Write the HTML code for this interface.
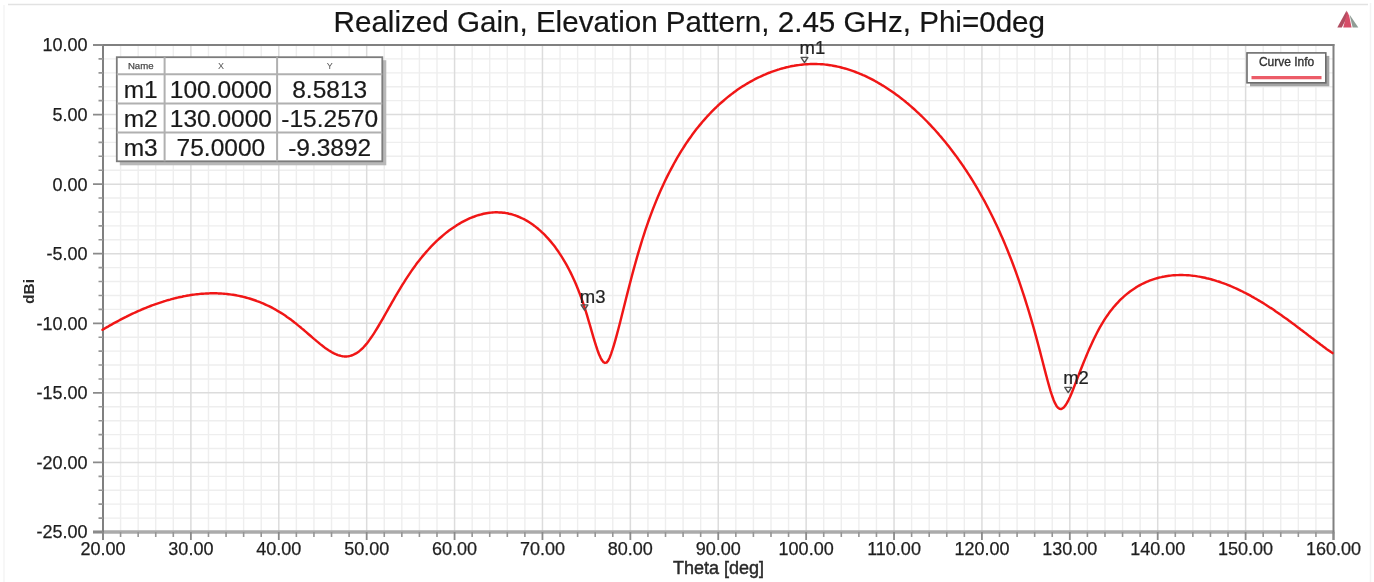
<!DOCTYPE html>
<html><head><meta charset="utf-8"><style>
html,body{margin:0;padding:0;background:#fff;}
body{width:1374px;height:582px;overflow:hidden;position:relative;}
svg{position:absolute;left:0;top:0;filter:blur(0.4px);font-family:"Liberation Sans",sans-serif;}
.lab{font-size:18px;fill:#1e1e1e;stroke:#1e1e1e;stroke-width:0.25;}
.axt{font-size:18px;fill:#2a2a2a;stroke:#2a2a2a;stroke-width:0.45;}
.axy{font-size:15.5px;font-weight:bold;fill:#2a2a2a;}
.title{font-size:29.6px;fill:#151515;stroke:#151515;stroke-width:0.2;}
.mk{font-size:18.5px;fill:#222;stroke:#222;stroke-width:0.2;}
.th{font-size:9.6px;fill:#4a4a4a;stroke:#4a4a4a;stroke-width:0.25;}
.th2{font-size:9px;fill:#555;}
.td{font-size:24.5px;fill:#1a1a1a;stroke:#1a1a1a;stroke-width:0.2;}
.leg{font-size:12px;fill:#333;stroke:#333;stroke-width:0.35;}
</style></head><body>
<svg width="1374" height="582" viewBox="0 0 1374 582">
<line x1="8" y1="4.5" x2="1368" y2="4.5" stroke="#e2e2e2" stroke-width="1.6"/>
<line x1="4" y1="5" x2="4" y2="582" stroke="#f5f5f5" stroke-width="1.5"/>
<line x1="1370.5" y1="3" x2="1370.5" y2="582" stroke="#f3f3f3" stroke-width="1.5"/>
<path d="M120.58,45.0V532.0M138.16,45.0V532.0M155.74,45.0V532.0M173.31,45.0V532.0M208.47,45.0V532.0M226.05,45.0V532.0M243.63,45.0V532.0M261.21,45.0V532.0M296.36,45.0V532.0M313.94,45.0V532.0M331.52,45.0V532.0M349.10,45.0V532.0M384.26,45.0V532.0M401.84,45.0V532.0M419.41,45.0V532.0M436.99,45.0V532.0M472.15,45.0V532.0M489.73,45.0V532.0M507.31,45.0V532.0M524.89,45.0V532.0M560.04,45.0V532.0M577.62,45.0V532.0M595.20,45.0V532.0M612.78,45.0V532.0M647.94,45.0V532.0M665.51,45.0V532.0M683.09,45.0V532.0M700.67,45.0V532.0M735.83,45.0V532.0M753.41,45.0V532.0M770.99,45.0V532.0M788.56,45.0V532.0M823.72,45.0V532.0M841.30,45.0V532.0M858.88,45.0V532.0M876.46,45.0V532.0M911.61,45.0V532.0M929.19,45.0V532.0M946.77,45.0V532.0M964.35,45.0V532.0M999.51,45.0V532.0M1017.09,45.0V532.0M1034.66,45.0V532.0M1052.24,45.0V532.0M1087.40,45.0V532.0M1104.98,45.0V532.0M1122.56,45.0V532.0M1140.14,45.0V532.0M1175.29,45.0V532.0M1192.87,45.0V532.0M1210.45,45.0V532.0M1228.03,45.0V532.0M1263.19,45.0V532.0M1280.76,45.0V532.0M1298.34,45.0V532.0M1315.92,45.0V532.0M103.0,518.09H1333.5M103.0,504.17H1333.5M103.0,490.26H1333.5M103.0,476.34H1333.5M103.0,448.51H1333.5M103.0,434.60H1333.5M103.0,420.69H1333.5M103.0,406.77H1333.5M103.0,378.94H1333.5M103.0,365.03H1333.5M103.0,351.11H1333.5M103.0,337.20H1333.5M103.0,309.37H1333.5M103.0,295.46H1333.5M103.0,281.54H1333.5M103.0,267.63H1333.5M103.0,239.80H1333.5M103.0,225.89H1333.5M103.0,211.97H1333.5M103.0,198.06H1333.5M103.0,170.23H1333.5M103.0,156.31H1333.5M103.0,142.40H1333.5M103.0,128.49H1333.5M103.0,100.66H1333.5M103.0,86.74H1333.5M103.0,72.83H1333.5M103.0,58.91H1333.5" stroke="#eeeeee" stroke-width="1.4" fill="none"/>
<path d="M190.89,45.0V532.0M278.79,45.0V532.0M366.68,45.0V532.0M454.57,45.0V532.0M542.46,45.0V532.0M630.36,45.0V532.0M718.25,45.0V532.0M806.14,45.0V532.0M894.04,45.0V532.0M981.93,45.0V532.0M1069.82,45.0V532.0M1157.71,45.0V532.0M1245.61,45.0V532.0M103.0,462.43H1333.5M103.0,392.86H1333.5M103.0,323.29H1333.5M103.0,253.71H1333.5M103.0,184.14H1333.5M103.0,114.57H1333.5" stroke="#dcdcdc" stroke-width="1.5" fill="none"/>
<line x1="93" y1="45.0" x2="1334.4" y2="45.0" stroke="#808080" stroke-width="2.2"/>
<line x1="93" y1="532.0" x2="1334.4" y2="532.0" stroke="#ababab" stroke-width="3.6"/>
<line x1="103.0" y1="44.0" x2="103.0" y2="540" stroke="#808080" stroke-width="2"/>
<line x1="1333.5" y1="44.0" x2="1333.5" y2="540" stroke="#808080" stroke-width="2"/>
<path d="M93,532.00H103.0M93,462.43H103.0M93,392.86H103.0M93,323.29H103.0M93,253.71H103.0M93,184.14H103.0M93,114.57H103.0M93,45.00H103.0M103.00,532.0V540M190.89,532.0V540M278.79,532.0V540M366.68,532.0V540M454.57,532.0V540M542.46,532.0V540M630.36,532.0V540M718.25,532.0V540M806.14,532.0V540M894.04,532.0V540M981.93,532.0V540M1069.82,532.0V540M1157.71,532.0V540M1245.61,532.0V540M1333.50,532.0V540" stroke="#8a8a8a" stroke-width="1.8" fill="none"/>
<path d="M98.5,518.09H103.0M98.5,504.17H103.0M98.5,490.26H103.0M98.5,476.34H103.0M98.5,448.51H103.0M98.5,434.60H103.0M98.5,420.69H103.0M98.5,406.77H103.0M98.5,378.94H103.0M98.5,365.03H103.0M98.5,351.11H103.0M98.5,337.20H103.0M98.5,309.37H103.0M98.5,295.46H103.0M98.5,281.54H103.0M98.5,267.63H103.0M98.5,239.80H103.0M98.5,225.89H103.0M98.5,211.97H103.0M98.5,198.06H103.0M98.5,170.23H103.0M98.5,156.31H103.0M98.5,142.40H103.0M98.5,128.49H103.0M98.5,100.66H103.0M98.5,86.74H103.0M98.5,72.83H103.0M98.5,58.91H103.0M120.58,532.0V537M138.16,532.0V537M155.74,532.0V537M173.31,532.0V537M208.47,532.0V537M226.05,532.0V537M243.63,532.0V537M261.21,532.0V537M296.36,532.0V537M313.94,532.0V537M331.52,532.0V537M349.10,532.0V537M384.26,532.0V537M401.84,532.0V537M419.41,532.0V537M436.99,532.0V537M472.15,532.0V537M489.73,532.0V537M507.31,532.0V537M524.89,532.0V537M560.04,532.0V537M577.62,532.0V537M595.20,532.0V537M612.78,532.0V537M647.94,532.0V537M665.51,532.0V537M683.09,532.0V537M700.67,532.0V537M735.83,532.0V537M753.41,532.0V537M770.99,532.0V537M788.56,532.0V537M823.72,532.0V537M841.30,532.0V537M858.88,532.0V537M876.46,532.0V537M911.61,532.0V537M929.19,532.0V537M946.77,532.0V537M964.35,532.0V537M999.51,532.0V537M1017.09,532.0V537M1034.66,532.0V537M1052.24,532.0V537M1087.40,532.0V537M1104.98,532.0V537M1122.56,532.0V537M1140.14,532.0V537M1175.29,532.0V537M1192.87,532.0V537M1210.45,532.0V537M1228.03,532.0V537M1263.19,532.0V537M1280.76,532.0V537M1298.34,532.0V537M1315.92,532.0V537" stroke="#959595" stroke-width="1.6" fill="none"/>
<text x="87.5" y="538.40" text-anchor="end" class="lab">-25.00</text>
<text x="87.5" y="468.83" text-anchor="end" class="lab">-20.00</text>
<text x="87.5" y="399.26" text-anchor="end" class="lab">-15.00</text>
<text x="87.5" y="329.69" text-anchor="end" class="lab">-10.00</text>
<text x="87.5" y="260.11" text-anchor="end" class="lab">-5.00</text>
<text x="87.5" y="190.54" text-anchor="end" class="lab">0.00</text>
<text x="87.5" y="120.97" text-anchor="end" class="lab">5.00</text>
<text x="87.5" y="51.40" text-anchor="end" class="lab">10.00</text>
<text x="103.00" y="554.8" text-anchor="middle" class="lab">20.00</text>
<text x="190.89" y="554.8" text-anchor="middle" class="lab">30.00</text>
<text x="278.79" y="554.8" text-anchor="middle" class="lab">40.00</text>
<text x="366.68" y="554.8" text-anchor="middle" class="lab">50.00</text>
<text x="454.57" y="554.8" text-anchor="middle" class="lab">60.00</text>
<text x="542.46" y="554.8" text-anchor="middle" class="lab">70.00</text>
<text x="630.36" y="554.8" text-anchor="middle" class="lab">80.00</text>
<text x="718.25" y="554.8" text-anchor="middle" class="lab">90.00</text>
<text x="806.14" y="554.8" text-anchor="middle" class="lab">100.00</text>
<text x="894.04" y="554.8" text-anchor="middle" class="lab">110.00</text>
<text x="981.93" y="554.8" text-anchor="middle" class="lab">120.00</text>
<text x="1069.82" y="554.8" text-anchor="middle" class="lab">130.00</text>
<text x="1157.71" y="554.8" text-anchor="middle" class="lab">140.00</text>
<text x="1245.61" y="554.8" text-anchor="middle" class="lab">150.00</text>
<text x="1333.50" y="554.8" text-anchor="middle" class="lab">160.00</text>
<text x="718.6" y="573.7" text-anchor="middle" class="axt">Theta [deg]</text>
<text transform="translate(34.2,291.5) rotate(-90)" text-anchor="middle" class="axy">dBi</text>
<text x="689.3" y="31.7" text-anchor="middle" class="title">Realized Gain, Elevation Pattern, 2.45 GHz, Phi=0deg</text>
<path d="M102.5,329.8 L104.0,328.9 L105.5,328.0 L107.0,327.1 L108.5,326.3 L110.0,325.4 L111.5,324.6 L113.0,323.7 L114.5,322.9 L116.0,322.1 L117.5,321.3 L119.0,320.5 L120.5,319.7 L122.0,318.9 L123.5,318.1 L125.0,317.3 L126.5,316.6 L128.0,315.8 L129.5,315.1 L131.0,314.4 L132.5,313.7 L134.0,313.0 L135.5,312.3 L137.0,311.6 L138.5,310.9 L140.0,310.3 L141.5,309.6 L143.0,309.0 L144.5,308.4 L146.0,307.8 L147.5,307.2 L149.0,306.6 L150.5,306.0 L152.0,305.4 L153.5,304.9 L155.0,304.3 L156.5,303.8 L158.0,303.3 L159.5,302.8 L161.0,302.3 L162.5,301.8 L164.0,301.3 L165.5,300.9 L167.0,300.4 L168.5,300.0 L170.0,299.6 L171.5,299.1 L173.0,298.8 L174.5,298.4 L176.0,298.0 L177.5,297.6 L179.0,297.3 L180.5,297.0 L182.0,296.7 L183.5,296.3 L185.0,296.1 L186.5,295.8 L188.0,295.5 L189.5,295.3 L191.0,295.0 L192.5,294.8 L194.0,294.6 L195.5,294.4 L197.0,294.2 L198.5,294.1 L200.0,293.9 L201.5,293.8 L203.0,293.7 L204.5,293.6 L206.0,293.5 L207.5,293.4 L209.0,293.4 L210.5,293.3 L212.0,293.3 L213.5,293.3 L215.0,293.3 L216.5,293.3 L218.0,293.4 L219.5,293.4 L221.0,293.5 L222.5,293.6 L224.0,293.7 L225.5,293.9 L227.0,294.0 L228.5,294.2 L230.0,294.4 L231.5,294.6 L233.0,294.8 L234.5,295.0 L236.0,295.3 L237.5,295.6 L239.0,295.9 L240.5,296.2 L242.0,296.5 L243.5,296.9 L245.0,297.3 L246.5,297.7 L248.0,298.1 L249.5,298.5 L251.0,299.0 L252.5,299.5 L254.0,300.0 L255.5,300.5 L257.0,301.1 L258.5,301.6 L260.0,302.2 L261.5,302.8 L263.0,303.4 L264.5,304.1 L266.0,304.8 L267.5,305.5 L269.0,306.2 L270.5,306.9 L272.0,307.7 L273.5,308.5 L275.0,309.3 L276.5,310.2 L278.0,311.1 L279.5,312.0 L281.0,312.9 L282.5,313.8 L284.0,314.8 L285.5,315.8 L287.0,316.9 L288.5,317.9 L290.0,319.0 L291.5,320.1 L293.0,321.3 L294.5,322.5 L296.0,323.6 L297.5,324.9 L299.0,326.1 L300.5,327.3 L302.0,328.6 L303.5,329.8 L305.0,331.1 L306.5,332.4 L308.0,333.7 L309.5,335.0 L311.0,336.3 L312.5,337.6 L314.0,338.9 L315.5,340.1 L317.0,341.4 L318.5,342.6 L320.0,343.9 L321.5,345.1 L323.0,346.2 L324.5,347.4 L326.0,348.5 L327.5,349.5 L329.0,350.5 L330.5,351.4 L332.0,352.3 L333.5,353.1 L335.0,353.8 L336.5,354.5 L338.0,355.1 L339.5,355.5 L341.0,355.9 L342.5,356.2 L344.0,356.4 L345.5,356.4 L347.0,356.4 L348.5,356.2 L350.0,355.9 L351.5,355.5 L353.0,354.9 L354.5,354.2 L356.0,353.4 L357.5,352.4 L359.0,351.4 L360.5,350.1 L362.0,348.8 L363.5,347.3 L365.0,345.6 L366.5,343.9 L368.0,342.0 L369.5,339.9 L371.0,337.8 L372.5,335.6 L374.0,333.3 L375.5,330.9 L377.0,328.5 L378.5,326.0 L380.0,323.4 L381.5,320.9 L383.0,318.3 L384.5,315.6 L386.0,313.0 L387.5,310.4 L389.0,307.7 L390.5,305.1 L392.0,302.4 L393.5,299.8 L395.0,297.2 L396.5,294.7 L398.0,292.1 L399.5,289.6 L401.0,287.1 L402.5,284.7 L404.0,282.3 L405.5,279.9 L407.0,277.6 L408.5,275.3 L410.0,273.1 L411.5,270.9 L413.0,268.8 L414.5,266.7 L416.0,264.6 L417.5,262.6 L419.0,260.7 L420.5,258.8 L422.0,256.9 L423.5,255.1 L425.0,253.4 L426.5,251.6 L428.0,250.0 L429.5,248.3 L431.0,246.7 L432.5,245.2 L434.0,243.7 L435.5,242.2 L437.0,240.7 L438.5,239.3 L440.0,238.0 L441.5,236.7 L443.0,235.4 L444.5,234.1 L446.0,232.9 L447.5,231.7 L449.0,230.6 L450.5,229.5 L452.0,228.4 L453.5,227.4 L455.0,226.4 L456.5,225.4 L458.0,224.5 L459.5,223.6 L461.0,222.7 L462.5,221.9 L464.0,221.1 L465.5,220.3 L467.0,219.6 L468.5,218.9 L470.0,218.2 L471.5,217.6 L473.0,217.0 L474.5,216.5 L476.0,215.9 L477.5,215.4 L479.0,215.0 L480.5,214.6 L482.0,214.2 L483.5,213.8 L485.0,213.5 L486.5,213.2 L488.0,213.0 L489.5,212.8 L491.0,212.6 L492.5,212.5 L494.0,212.4 L495.5,212.3 L497.0,212.3 L498.5,212.4 L500.0,212.4 L501.5,212.5 L503.0,212.7 L504.5,212.8 L506.0,213.1 L507.5,213.3 L509.0,213.7 L510.5,214.0 L512.0,214.4 L513.5,214.9 L515.0,215.3 L516.5,215.9 L518.0,216.5 L519.5,217.1 L521.0,217.8 L522.5,218.5 L524.0,219.2 L525.5,220.0 L527.0,220.9 L528.5,221.8 L530.0,222.8 L531.5,223.8 L533.0,224.8 L534.5,225.9 L536.0,227.1 L537.5,228.3 L539.0,229.6 L540.5,230.9 L542.0,232.3 L543.5,233.7 L545.0,235.2 L546.5,236.8 L548.0,238.4 L549.5,240.1 L551.0,241.9 L552.5,243.7 L554.0,245.6 L555.5,247.6 L557.0,249.7 L558.5,251.8 L560.0,254.1 L561.5,256.4 L563.0,258.8 L564.5,261.3 L566.0,263.9 L567.5,266.6 L569.0,269.5 L570.5,272.4 L572.0,275.5 L573.5,278.7 L575.0,282.1 L576.5,285.6 L578.0,289.2 L579.5,293.1 L581.0,297.1 L582.5,301.3 L584.0,305.7 L585.5,310.4 L587.0,315.2 L588.5,320.3 L590.0,325.4 L591.5,330.6 L593.0,335.8 L594.5,340.8 L596.0,345.7 L597.5,350.2 L599.0,354.2 L600.5,357.6 L602.0,360.3 L603.5,362.2 L605.0,362.9 L606.5,362.6 L608.0,360.9 L609.5,358.0 L611.0,354.1 L612.5,349.7 L614.0,344.8 L615.5,339.6 L617.0,334.2 L618.5,328.5 L620.0,322.7 L621.5,316.8 L623.0,310.8 L624.5,304.8 L626.0,298.8 L627.5,292.9 L629.0,287.0 L630.5,281.2 L632.0,275.5 L633.5,269.9 L635.0,264.5 L636.5,259.1 L638.0,253.9 L639.5,248.8 L641.0,243.8 L642.5,239.0 L644.0,234.3 L645.5,229.7 L647.0,225.3 L648.5,221.0 L650.0,216.9 L651.5,212.8 L653.0,208.9 L654.5,205.1 L656.0,201.4 L657.5,197.7 L659.0,194.2 L660.5,190.8 L662.0,187.5 L663.5,184.2 L665.0,181.0 L666.5,177.9 L668.0,174.9 L669.5,172.0 L671.0,169.1 L672.5,166.3 L674.0,163.5 L675.5,160.9 L677.0,158.2 L678.5,155.7 L680.0,153.2 L681.5,150.7 L683.0,148.4 L684.5,146.0 L686.0,143.7 L687.5,141.5 L689.0,139.3 L690.5,137.2 L692.0,135.1 L693.5,133.1 L695.0,131.1 L696.5,129.1 L698.0,127.2 L699.5,125.4 L701.0,123.6 L702.5,121.8 L704.0,120.1 L705.5,118.4 L707.0,116.7 L708.5,115.1 L710.0,113.5 L711.5,111.9 L713.0,110.4 L714.5,108.9 L716.0,107.5 L717.5,106.0 L719.0,104.6 L720.5,103.3 L722.0,102.0 L723.5,100.7 L725.0,99.4 L726.5,98.1 L728.0,96.9 L729.5,95.7 L731.0,94.6 L732.5,93.4 L734.0,92.3 L735.5,91.2 L737.0,90.1 L738.5,89.1 L740.0,88.1 L741.5,87.1 L743.0,86.1 L744.5,85.2 L746.0,84.3 L747.5,83.4 L749.0,82.5 L750.5,81.6 L752.0,80.8 L753.5,80.0 L755.0,79.2 L756.5,78.4 L758.0,77.7 L759.5,77.0 L761.0,76.3 L762.5,75.6 L764.0,74.9 L765.5,74.3 L767.0,73.6 L768.5,73.0 L770.0,72.5 L771.5,71.9 L773.0,71.3 L774.5,70.8 L776.0,70.3 L777.5,69.8 L779.0,69.4 L780.5,68.9 L782.0,68.5 L783.5,68.1 L785.0,67.7 L786.5,67.3 L788.0,67.0 L789.5,66.6 L791.0,66.3 L792.5,66.0 L794.0,65.8 L795.5,65.5 L797.0,65.3 L798.5,65.1 L800.0,64.9 L801.5,64.7 L803.0,64.5 L804.5,64.4 L806.0,64.3 L807.5,64.2 L809.0,64.1 L810.5,64.0 L812.0,64.0 L813.5,64.0 L815.0,64.0 L816.5,64.0 L818.0,64.1 L819.5,64.1 L821.0,64.2 L822.5,64.3 L824.0,64.4 L825.5,64.6 L827.0,64.8 L828.5,65.0 L830.0,65.2 L831.5,65.4 L833.0,65.7 L834.5,66.0 L836.0,66.3 L837.5,66.6 L839.0,66.9 L840.5,67.3 L842.0,67.7 L843.5,68.1 L845.0,68.5 L846.5,68.9 L848.0,69.4 L849.5,69.9 L851.0,70.4 L852.5,70.9 L854.0,71.4 L855.5,72.0 L857.0,72.6 L858.5,73.2 L860.0,73.8 L861.5,74.4 L863.0,75.1 L864.5,75.7 L866.0,76.4 L867.5,77.2 L869.0,77.9 L870.5,78.6 L872.0,79.4 L873.5,80.2 L875.0,81.0 L876.5,81.8 L878.0,82.7 L879.5,83.6 L881.0,84.4 L882.5,85.4 L884.0,86.3 L885.5,87.2 L887.0,88.2 L888.5,89.2 L890.0,90.2 L891.5,91.2 L893.0,92.2 L894.5,93.3 L896.0,94.4 L897.5,95.5 L899.0,96.6 L900.5,97.8 L902.0,98.9 L903.5,100.1 L905.0,101.3 L906.5,102.6 L908.0,103.8 L909.5,105.1 L911.0,106.4 L912.5,107.7 L914.0,109.0 L915.5,110.4 L917.0,111.8 L918.5,113.2 L920.0,114.6 L921.5,116.0 L923.0,117.5 L924.5,119.0 L926.0,120.5 L927.5,122.0 L929.0,123.6 L930.5,125.2 L932.0,126.8 L933.5,128.4 L935.0,130.0 L936.5,131.7 L938.0,133.4 L939.5,135.2 L941.0,136.9 L942.5,138.7 L944.0,140.5 L945.5,142.3 L947.0,144.2 L948.5,146.1 L950.0,148.0 L951.5,149.9 L953.0,151.9 L954.5,153.9 L956.0,155.9 L957.5,158.0 L959.0,160.1 L960.5,162.2 L962.0,164.4 L963.5,166.5 L965.0,168.8 L966.5,171.0 L968.0,173.3 L969.5,175.7 L971.0,178.0 L972.5,180.4 L974.0,182.9 L975.5,185.4 L977.0,187.9 L978.5,190.5 L980.0,193.1 L981.5,195.8 L983.0,198.5 L984.5,201.2 L986.0,204.0 L987.5,206.8 L989.0,209.7 L990.5,212.7 L992.0,215.7 L993.5,218.7 L995.0,221.9 L996.5,225.0 L998.0,228.2 L999.5,231.5 L1001.0,234.9 L1002.5,238.3 L1004.0,241.8 L1005.5,245.4 L1007.0,249.0 L1008.5,252.7 L1010.0,256.5 L1011.5,260.3 L1013.0,264.3 L1014.5,268.3 L1016.0,272.4 L1017.5,276.6 L1019.0,280.9 L1020.5,285.3 L1022.0,289.8 L1023.5,294.4 L1025.0,299.0 L1026.5,303.8 L1028.0,308.7 L1029.5,313.6 L1031.0,318.7 L1032.5,323.9 L1034.0,329.2 L1035.5,334.6 L1037.0,340.1 L1038.5,345.7 L1040.0,351.4 L1041.5,357.2 L1043.0,363.0 L1044.5,368.9 L1046.0,374.6 L1047.5,380.3 L1049.0,385.7 L1050.5,390.8 L1052.0,395.5 L1053.5,399.7 L1055.0,403.2 L1056.5,405.9 L1058.0,407.8 L1059.5,408.8 L1061.0,409.0 L1062.5,408.4 L1064.0,407.2 L1065.5,405.3 L1067.0,402.9 L1068.5,400.1 L1070.0,396.9 L1071.5,393.4 L1073.0,389.7 L1074.5,385.9 L1076.0,382.0 L1077.5,378.1 L1079.0,374.2 L1080.5,370.3 L1082.0,366.5 L1083.5,362.7 L1085.0,359.1 L1086.5,355.5 L1088.0,351.9 L1089.5,348.5 L1091.0,345.2 L1092.5,341.9 L1094.0,338.8 L1095.5,335.7 L1097.0,332.8 L1098.5,329.9 L1100.0,327.2 L1101.5,324.6 L1103.0,322.1 L1104.5,319.7 L1106.0,317.4 L1107.5,315.2 L1109.0,313.1 L1110.5,311.1 L1112.0,309.2 L1113.5,307.3 L1115.0,305.6 L1116.5,303.9 L1118.0,302.3 L1119.5,300.7 L1121.0,299.2 L1122.5,297.8 L1124.0,296.4 L1125.5,295.1 L1127.0,293.9 L1128.5,292.7 L1130.0,291.5 L1131.5,290.4 L1133.0,289.4 L1134.5,288.4 L1136.0,287.4 L1137.5,286.5 L1139.0,285.6 L1140.5,284.8 L1142.0,284.0 L1143.5,283.3 L1145.0,282.6 L1146.5,281.9 L1148.0,281.3 L1149.5,280.7 L1151.0,280.1 L1152.5,279.6 L1154.0,279.1 L1155.5,278.6 L1157.0,278.2 L1158.5,277.8 L1160.0,277.4 L1161.5,277.1 L1163.0,276.7 L1164.5,276.5 L1166.0,276.2 L1167.5,276.0 L1169.0,275.8 L1170.5,275.6 L1172.0,275.4 L1173.5,275.3 L1175.0,275.2 L1176.5,275.1 L1178.0,275.1 L1179.5,275.0 L1181.0,275.0 L1182.5,275.0 L1184.0,275.1 L1185.5,275.1 L1187.0,275.2 L1188.5,275.3 L1190.0,275.4 L1191.5,275.6 L1193.0,275.8 L1194.5,275.9 L1196.0,276.1 L1197.5,276.4 L1199.0,276.6 L1200.5,276.9 L1202.0,277.2 L1203.5,277.5 L1205.0,277.8 L1206.5,278.2 L1208.0,278.5 L1209.5,278.9 L1211.0,279.3 L1212.5,279.7 L1214.0,280.1 L1215.5,280.6 L1217.0,281.1 L1218.5,281.5 L1220.0,282.0 L1221.5,282.6 L1223.0,283.1 L1224.5,283.7 L1226.0,284.2 L1227.5,284.8 L1229.0,285.4 L1230.5,286.0 L1232.0,286.7 L1233.5,287.3 L1235.0,288.0 L1236.5,288.7 L1238.0,289.4 L1239.5,290.1 L1241.0,290.8 L1242.5,291.5 L1244.0,292.3 L1245.5,293.0 L1247.0,293.8 L1248.5,294.6 L1250.0,295.4 L1251.5,296.3 L1253.0,297.1 L1254.5,298.0 L1256.0,298.8 L1257.5,299.7 L1259.0,300.6 L1260.5,301.5 L1262.0,302.4 L1263.5,303.3 L1265.0,304.3 L1266.5,305.2 L1268.0,306.2 L1269.5,307.2 L1271.0,308.1 L1272.5,309.1 L1274.0,310.1 L1275.5,311.2 L1277.0,312.2 L1278.5,313.2 L1280.0,314.3 L1281.5,315.3 L1283.0,316.4 L1284.5,317.5 L1286.0,318.5 L1287.5,319.6 L1289.0,320.7 L1290.5,321.8 L1292.0,322.9 L1293.5,324.0 L1295.0,325.1 L1296.5,326.3 L1298.0,327.4 L1299.5,328.5 L1301.0,329.7 L1302.5,330.8 L1304.0,331.9 L1305.5,333.1 L1307.0,334.2 L1308.5,335.4 L1310.0,336.5 L1311.5,337.7 L1313.0,338.8 L1314.5,339.9 L1316.0,341.1 L1317.5,342.2 L1319.0,343.3 L1320.5,344.5 L1322.0,345.6 L1323.5,346.7 L1325.0,347.8 L1326.5,348.9 L1328.0,349.9 L1329.5,351.0 L1331.0,352.1 L1332.5,353.1" fill="none" stroke="#f01616" stroke-width="2.45" stroke-linejoin="round" stroke-linecap="round"/>
<path d="M801.1,57.4 L807.9,57.4 L804.5,62.6 Z" fill="none" stroke="#505050" stroke-width="1.4" stroke-linejoin="round"/>
<text x="799.6" y="53.5" class="mk">m1</text>
<path d="M1064.8,387.4 L1071.6,387.4 L1068.2,392.6 Z" fill="none" stroke="#505050" stroke-width="1.4" stroke-linejoin="round"/>
<text x="1063.2" y="384" class="mk">m2</text>
<path d="M581.1,304.9 L587.9,304.9 L584.5,310.1 Z" fill="none" stroke="#505050" stroke-width="1.4" stroke-linejoin="round"/>
<text x="579.8" y="303" class="mk">m3</text>
<rect x="119.8" y="60.2" width="266.5" height="105.10000000000001" fill="#b8b8b8"/>
<rect x="116.8" y="57.2" width="265.5" height="104.10000000000001" fill="#fff" stroke="#7c7c7c" stroke-width="1.8"/>
<line x1="164.6" y1="57.2" x2="164.6" y2="161.3" stroke="#b0b0b0" stroke-width="2"/>
<line x1="277.1" y1="57.2" x2="277.1" y2="161.3" stroke="#b0b0b0" stroke-width="2"/>
<line x1="116.8" y1="74.3" x2="382.3" y2="74.3" stroke="#b0b0b0" stroke-width="2"/>
<line x1="116.8" y1="103.6" x2="382.3" y2="103.6" stroke="#b0b0b0" stroke-width="2"/>
<line x1="116.8" y1="132.5" x2="382.3" y2="132.5" stroke="#b0b0b0" stroke-width="2"/>
<text x="140.7" y="69.3" text-anchor="middle" class="th">Name</text>
<text x="220.9" y="69" text-anchor="middle" class="th2">X</text>
<text x="329.7" y="69" text-anchor="middle" class="th2">Y</text>
<text x="140.7" y="98.0" text-anchor="middle" class="td">m1</text>
<text x="220.9" y="98.0" text-anchor="middle" class="td">100.0000</text>
<text x="329.7" y="98.0" text-anchor="middle" class="td">8.5813</text>
<text x="140.7" y="127.0" text-anchor="middle" class="td">m2</text>
<text x="220.9" y="127.0" text-anchor="middle" class="td">130.0000</text>
<text x="329.7" y="127.0" text-anchor="middle" class="td">-15.2570</text>
<text x="140.7" y="156.0" text-anchor="middle" class="td">m3</text>
<text x="220.9" y="156.0" text-anchor="middle" class="td">75.0000</text>
<text x="329.7" y="156.0" text-anchor="middle" class="td">-9.3892</text>
<rect x="1250" y="55.9" width="79.29999999999995" height="30.4" fill="#a4a4a4"/>
<rect x="1247" y="52.9" width="78.79999999999995" height="29.9" fill="#fff" stroke="#6c6c6c" stroke-width="1.6"/>
<text x="1286.6000000000001" y="65.6" text-anchor="middle" class="leg">Curve Info</text>
<line x1="1251.5" y1="77.6" x2="1321.5" y2="77.6" stroke="#ec5c68" stroke-width="3.4"/>
<g opacity="0.9">
<path d="M1346.6,10.5 L1337.3,27.4 L1341.8,27.4 L1347.4,16.5 Z" fill="#a83a50"/>
<path d="M1347.4,11.5 L1343.2,27.4 L1351.6,27.4 L1349.2,16 Z" fill="#d23a58"/>
<path d="M1349.5,14.5 L1352.6,27.4 L1358.3,27.4 Z" fill="#84928a"/>
</g>
</svg>
</body></html>
